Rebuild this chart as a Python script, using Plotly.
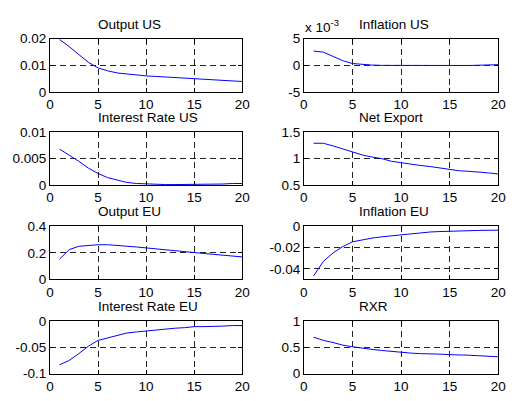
import plotly.graph_objects as go

periods = list(range(1, 21))

titles = ["Output US", "Inflation US", "Interest Rate US", "Net Export",
          "Output EU", "Inflation EU", "Interest Rate EU", "RXR"]

output_us = [0.0197, 0.0171, 0.0141, 0.0112, 0.0091, 0.0080, 0.0072, 0.0068, 0.0065, 0.0061,
             0.0059, 0.0057, 0.0055, 0.0053, 0.0049, 0.0047, 0.0045, 0.0044, 0.0042, 0.0040]
inflation_us = [0.0027, 0.0025, 0.0017, 0.0009, 0.00036, 0.00018, 0.00008, 0.00002, 0.0, 0.0,
                0.0, 0.0, 0.0, 0.0, 0.0, 0.0, 0.0, 0.00005, 0.00015, 0.00015]
interest_us = [0.0068, 0.0057, 0.0045, 0.0032, 0.0022, 0.0014, 0.0009, 0.0005, 0.0003, 0.0002,
               0.0001, 0.0001, 0.0001, 0.0001, 0.0001, 0.0001, 0.0001, 0.0002, 0.0003, 0.0003]
net_export = [1.29, 1.29, 1.24, 1.18, 1.12, 1.07, 1.03, 1.00, 0.95, 0.92,
              0.89, 0.87, 0.85, 0.82, 0.79, 0.77, 0.76, 0.75, 0.73, 0.71]
output_eu = [0.153, 0.225, 0.250, 0.258, 0.262, 0.262, 0.258, 0.252, 0.245, 0.238,
             0.232, 0.225, 0.220, 0.212, 0.203, 0.196, 0.190, 0.186, 0.178, 0.170]
inflation_eu = [-0.0467, -0.033, -0.025, -0.019, -0.0145, -0.0125, -0.011, -0.0098, -0.0088, -0.0078,
                -0.0068, -0.0058, -0.0052, -0.0048, -0.0043, -0.0042, -0.0040, -0.0037, -0.0036, -0.0035]
interest_eu = [-0.083, -0.075, -0.062, -0.048, -0.037, -0.032, -0.027, -0.023, -0.021, -0.019,
               -0.017, -0.015, -0.014, -0.013, -0.011, -0.011, -0.011, -0.010, -0.009, -0.009]
rxr = [0.69, 0.63, 0.59, 0.54, 0.51, 0.48, 0.46, 0.44, 0.42, 0.41,
       0.39, 0.38, 0.38, 0.37, 0.36, 0.36, 0.35, 0.34, 0.33, 0.32]

series = [output_us, inflation_us, interest_us, net_export,
          output_eu, inflation_eu, interest_eu, rxr]

y_ranges = [[0, 0.02], [-0.005, 0.005], [0, 0.01], [0.5, 1.5],
            [0, 0.4], [-0.05, 0], [-0.1, 0], [0, 1]]
y_tickvals = [[0, 0.01, 0.02], [-0.005, 0, 0.005], [0, 0.005, 0.01], [0.5, 1, 1.5],
              [0, 0.2, 0.4], [-0.04, -0.02, 0], [-0.1, -0.05, 0], [0, 0.5, 1]]
y_ticktext = [["0", "0.01", "0.02"], ["-5", "0", "5"], ["0", "0.005", "0.01"], ["0.5", "1", "1.5"],
              ["0", "0.2", "0.4"], ["-0.04", "-0.02", "0"], ["-0.1", "-0.05", "0"], ["0", "0.5", "1"]]
x_tickvals = [0, 5, 10, 15, 20]

W, H = 517, 401
col_x = [(47, 244), (307, 506)]
title_left = [94, 361]
row_y = [(33, 88.5), (130, 185), (228, 283), (326, 381)]

FAMILY = "Liberation Sans, Arial, Helvetica, sans-serif"
tick_font = dict(family=FAMILY, size=13.5, color="black")
title_font = dict(family=FAMILY, size=13.5, color="black")

fig = go.Figure()
layout = dict(width=W, height=H, margin=dict(l=0, r=0, t=0, b=0),
              paper_bgcolor="white", plot_bgcolor="white", showlegend=False,
              font=tick_font, annotations=[])

for i in range(8):
    r, c = divmod(i, 2)
    n = i + 1
    xs = "" if n == 1 else str(n)
    fig.add_trace(go.Scatter(x=periods, y=series[i], mode="lines",
                             line=dict(color="#0000ff", width=1),
                             xaxis="x" + xs, yaxis="y" + xs, hoverinfo="skip"))
    x0, x1 = col_x[c]
    ytop, ybot = row_y[r]
    common = dict(showline=True, linecolor="black", linewidth=1, mirror="ticks",
                  ticks="inside", ticklen=4, tickcolor="black", zeroline=False,
                  showgrid=True, gridcolor="#222222", gridwidth=1, griddash="6px,4px",
                  tickfont=tick_font)
    layout["xaxis" + xs] = dict(domain=[x0 / W, x1 / W], range=[0, 20],
                                tickvals=x_tickvals, anchor="y" + xs, **common)
    layout["yaxis" + xs] = dict(domain=[1 - ybot / H, 1 - ytop / H], range=y_ranges[i],
                                tickvals=y_tickvals[i], ticktext=y_ticktext[i],
                                anchor="x" + xs, **common)
    layout["annotations"].append(dict(text=titles[i], x=title_left[c] / W, y=1 - ytop / H,
                                      xref="paper", yref="paper", xanchor="left",
                                      yanchor="bottom", yshift=5, showarrow=False,
                                      font=title_font))

layout["annotations"].append(dict(text="x 10<sup>-3</sup>", x=col_x[1][0] / W, y=1 - row_y[0][0] / H,
                                  xref="paper", yref="paper", xanchor="left", yanchor="bottom",
                                  xshift=-1, yshift=2, showarrow=False, font=title_font))

fig.update_layout(**layout)
fig.write_html("out.html", config={"displayModeBar": False},
               post_script="document.body.style.margin='0px';")
